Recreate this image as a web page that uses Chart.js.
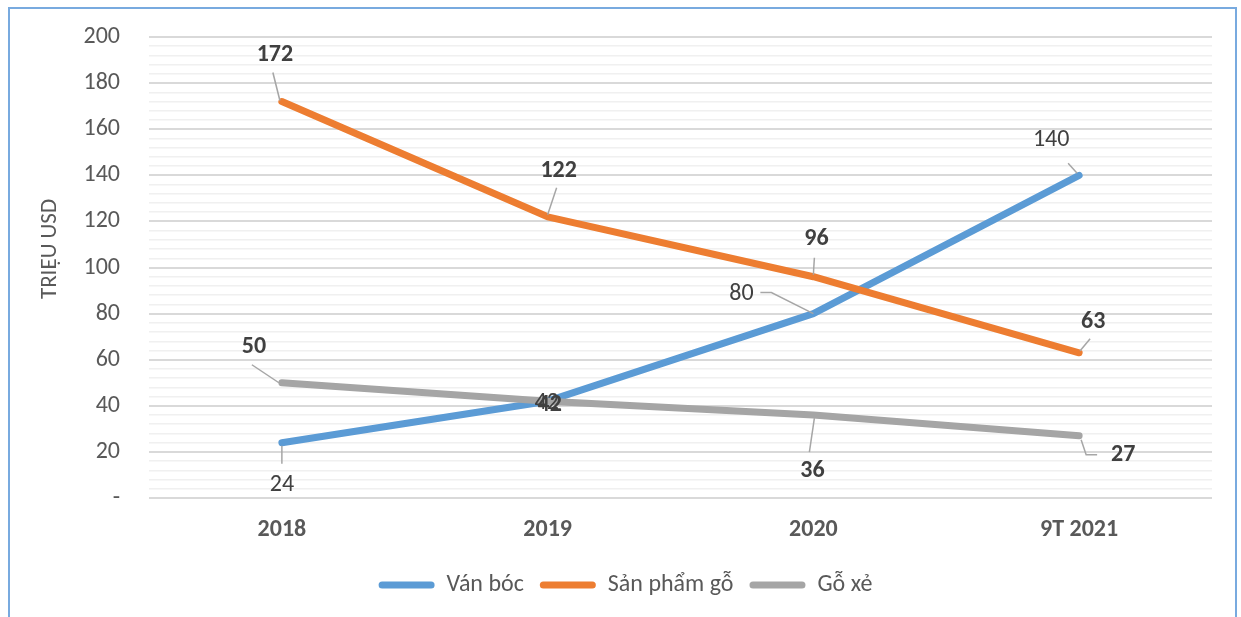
<!DOCTYPE html>
<html>
<head>
<meta charset="utf-8">
<script src="https://cdn.jsdelivr.net/npm/chart.js@4"></script>
<style>
  body { margin: 0; background: #fff; }
  #frame {
    position: absolute; left: 8px; top: 7px; width: 1229px; height: 640px;
    border: 2px solid #78aadf; box-sizing: border-box;
  }
  #wrap { position: absolute; left: 0; top: 0; width: 1241px; height: 617px; }
</style>
</head>
<body>
<div id="frame"></div>
<div id="wrap"><canvas id="woodChart"></canvas></div>
<script>
// Xuất khẩu gỗ (triệu USD)
const years = ['2018', '2019', '2020', '9T 2021'];
const vanBoc = [24, 42, 80, 140];
const sanPhamGo = [172, 122, 96, 63];
const goXe = [50, 42, 36, 27];

const FONT = 'Carlito, Calibri, Lato, "Open Sans", sans-serif';
const TEXT = '#595959';

// where each data label sits relative to its point, plus its leader line
const labelPlacement = [
    [ // Ván bóc
        { dx: 0, dy: 42, line: [[0, 3], [0, 21]] },
        { dx: -1, dy: 2 },
        { dx: -72, dy: -20, line: [[0, 0], [-42, -21], [-53, -21]] },
        { dx: -28, dy: -35, line: [[-2, -2], [-11, -12]] }
    ],
    [ // Sản phẩm gỗ
        { dx: -7, dy: -47, line: [[-2, -1], [-9, -29]] },
        { dx: 11, dy: -46, line: [[0, -2], [9, -29]] },
        { dx: 3, dy: -38, line: [[0, -2], [1, -19]] },
        { dx: 14, dy: -31, line: [[1, -2], [11, -14]] }
    ],
    [ // Gỗ xẻ
        { dx: -28, dy: -36, line: [[-3, 0], [-30, -18]] },
        { dx: 2, dy: 4 },
        { dx: -1, dy: 56, line: [[1, 3], [-4, 37]] },
        { dx: 44, dy: 19, line: [[2, 4], [7, 19], [18, 19]] }
    ]
];

const dataLabels = {
    id: 'dataLabels',
    afterDatasetsDraw(chart) {
        const ctx = chart.ctx;
        ctx.save();
        chart.data.datasets.forEach((ds, i) => {
            const meta = chart.getDatasetMeta(i);
            meta.data.forEach((pt, j) => {
                const p = labelPlacement[i][j];
                if (p.line) {
                    ctx.beginPath();
                    ctx.strokeStyle = '#a6a6a6';
                    ctx.lineWidth = 1.5;
                    p.line.forEach((q, k) => {
                        if (k === 0) ctx.moveTo(pt.x + q[0], pt.y + q[1]);
                        else ctx.lineTo(pt.x + q[0], pt.y + q[1]);
                    });
                    ctx.stroke();
                }
                ctx.fillStyle = '#404040';
                ctx.font = (i === 0 ? '' : 'bold ') + '24px ' + FONT;
                ctx.textAlign = 'center';
                ctx.textBaseline = 'middle';
                ctx.fillText(String(ds.data[j]), pt.x + p.dx, pt.y + p.dy);
            });
        });

        // axis title, sitting a bit above the middle like the original
        const area = chart.chartArea;
        ctx.translate(area.left - 99, area.top + 212);
        ctx.rotate(-Math.PI / 2);
        ctx.fillStyle = TEXT;
        ctx.font = '23px ' + FONT;
        ctx.textAlign = 'center';
        ctx.textBaseline = 'middle';
        ctx.fillText('TRIỆU USD', 0, 0);
        ctx.restore();
    }
};

const woodCtx = document.getElementById('woodChart').getContext('2d');
const woodChart = new Chart(woodCtx, {
    type: 'line',
    data: {
        labels: years,
        datasets: [
            { label: 'Ván bóc', data: vanBoc, borderColor: '#5b9bd5', backgroundColor: '#5b9bd5', order: 3 },
            { label: 'Sản phẩm gỗ', data: sanPhamGo, borderColor: '#ed7d31', backgroundColor: '#ed7d31', order: 2 },
            { label: 'Gỗ xẻ', data: goXe, borderColor: '#a5a5a5', backgroundColor: '#a5a5a5', order: 1 }
        ]
    },
    options: {
        responsive: true,
        maintainAspectRatio: false,
        animation: false,
        layout: { padding: { left: 39, right: 29, top: 37, bottom: 10 } },
        elements: {
            line: { borderWidth: 7, borderCapStyle: 'round', borderJoinStyle: 'round', tension: 0 },
            point: { radius: 0, hoverRadius: 0 }
        },
        scales: {
            x: {
                offset: true,
                afterFit(scale) { scale.height = 59; scale.paddingLeft = 0; scale.paddingRight = 0; },
                grid: { display: false, drawTicks: false },
                border: { display: false },
                ticks: { color: TEXT, font: { family: FONT, size: 24, weight: 'bold' }, padding: 18 }
            },
            y: {
                min: 0,
                max: 200,
                afterFit(scale) { scale.width = 110; scale.paddingTop = 0; scale.paddingBottom = 0; },
                border: { display: false },
                grid: {
                    drawTicks: false,
                    color: c => (c.tick && c.tick.value % 20 === 0) ? '#d9d9d9' : '#f0f0f0',
                    lineWidth: c => (c.tick && c.tick.value % 20 === 0) ? 2 : 1.5
                },
                ticks: {
                    stepSize: 4,
                    autoSkip: false,
                    padding: 29,
                    color: TEXT,
                    font: { family: FONT, size: 24 },
                    callback: v => v % 20 === 0 ? (v === 0 ? '-' : String(v)) : ''
                }
            }
        },
        plugins: {
            legend: {
                position: 'bottom',
                labels: {
                    color: TEXT,
                    font: { family: FONT, size: 24 },
                    boxWidth: 56,
                    boxHeight: 7,
                    useBorderRadius: true,
                    borderRadius: 3.5,
                    padding: 16,
                    sort: (a, b) => a.datasetIndex - b.datasetIndex,
                    generateLabels(chart) {
                        const items = Chart.defaults.plugins.legend.labels.generateLabels(chart);
                        items.forEach(it => { it.lineWidth = 0; });
                        return items;
                    }
                }
            },
            tooltip: { enabled: false }
        }
    },
    plugins: [dataLabels]
});
</script>
</body>
</html>
